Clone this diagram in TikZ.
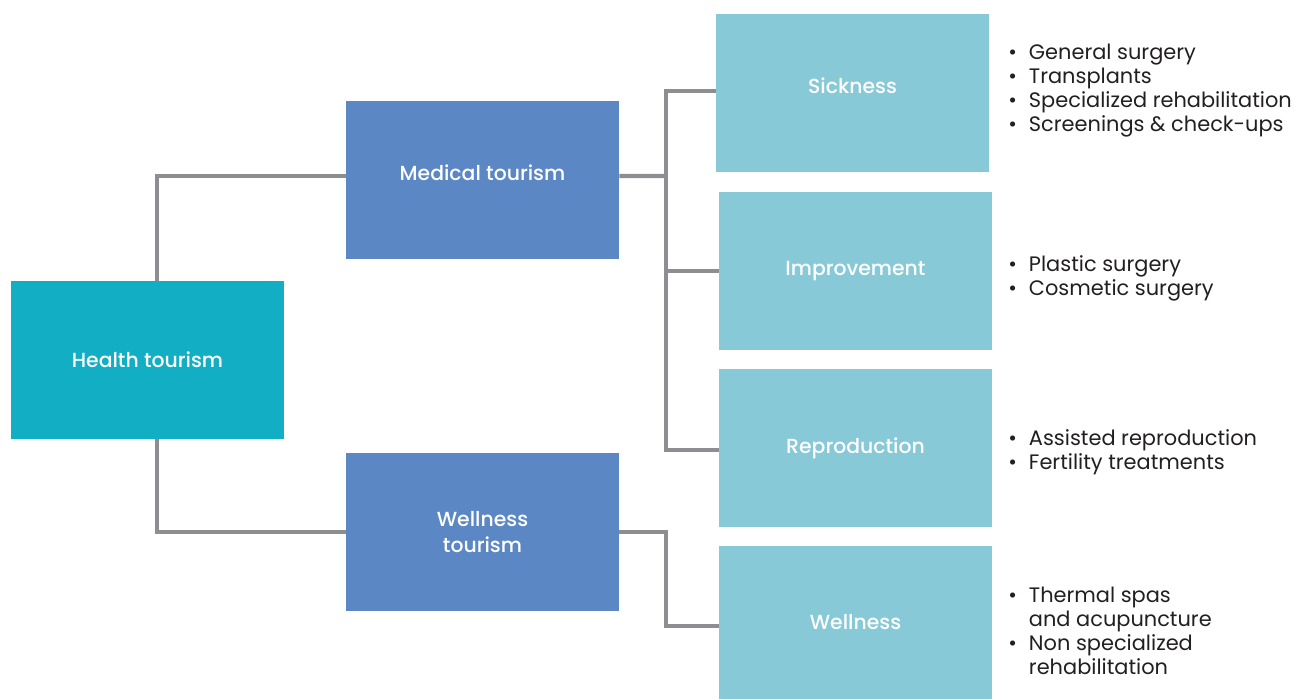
\documentclass[tikz,border=0pt]{standalone}
\usepackage{fontspec}
\setmainfont{Poppins}[BoldFont={Poppins Medium}]
\usetikzlibrary{positioning}
\definecolor{healthcol}{HTML}{12AFC4}
\definecolor{typecol}{HTML}{5B88C5}
\definecolor{subcol}{HTML}{88C9D8}
\definecolor{linkcol}{HTML}{8E8E92}
\definecolor{textcol}{HTML}{231F20}
\newcommand{\itemlist}[1]{\begin{tabular}{@{}l@{\hspace{0.24cm}}l@{}}#1\end{tabular}}

\begin{document}
\begin{tikzpicture}[x=0.02cm, y=-0.02cm,
    box/.style={rectangle, minimum width=5.46cm, minimum height=3.16cm, text=white, font=\fontsize{11.6}{14.8}\selectfont\bfseries, align=center, inner sep=0pt},
    link/.style={draw=linkcol, line width=2.4pt},
    items/.style={anchor=west, text=textcol, font=\fontsize{11.9}{13.66}\selectfont, inner sep=0pt}]
  \useasboundingbox (0,0) rectangle (1300,699);
  % main boxes
  \node[box, fill=healthcol] (health) at (147.5,360) {Health tourism};
  \node[box, fill=typecol, text depth=0.28cm] (medical) at (482.5,180) {Medical tourism};
  \node[box, fill=typecol] (wellt) at (482.5,532) {Wellness\\tourism};
  \node[box, fill=subcol, text depth=0.3cm] (sickness) at (852.5,93) {Sickness};
  \node[box, fill=subcol] (improvement) at (855.5,271) {Improvement};
  \node[box, fill=subcol] (reproduction) at (855.5,448) {Reproduction};
  \node[box, fill=subcol, minimum height=3.06cm] (wellness) at (855.5,622.5) {Wellness};
  % lists
  \node[items] (sicklist) at (1008,91) {\itemlist{\textbullet & General surgery\\ \textbullet & Transplants\\ \textbullet & Specialized rehabilitation\\ \textbullet & Screenings \& check-ups}};
  \node[items] (improvlist) at (1008,279) {\itemlist{\textbullet & Plastic surgery\\ \textbullet & Cosmetic surgery}};
  \node[items] (reprolist) at (1008,453) {\itemlist{\textbullet & Assisted reproduction\\ \textbullet & Fertility treatments}};
  \node[items] (welllist) at (1008,634) {\itemlist{\textbullet & Thermal spas\\ & and acupuncture\\ \textbullet & Non specialized\\ & rehabilitation}};
  % connectors
  \coordinate (bus) at (666,176);
  \draw[link] ([xshift=0.19cm]health.north) |- ([yshift=0.08cm]medical.west);
  \draw[link] ([xshift=0.19cm]health.south) |- (wellt.west);
  \draw[link] ([yshift=0.08cm]medical.east) -- (bus);
  \draw[link] ([yshift=0.04cm]sickness.west) -| (bus) |- ([yshift=-0.04cm]reproduction.west);
  \draw[link] (improvement.west) -- (improvement.west -| bus);
  \draw[link] (wellt.east) -| (bus |- wellt.east) |- ([yshift=-0.07cm]wellness.west);
\end{tikzpicture}
\end{document}
